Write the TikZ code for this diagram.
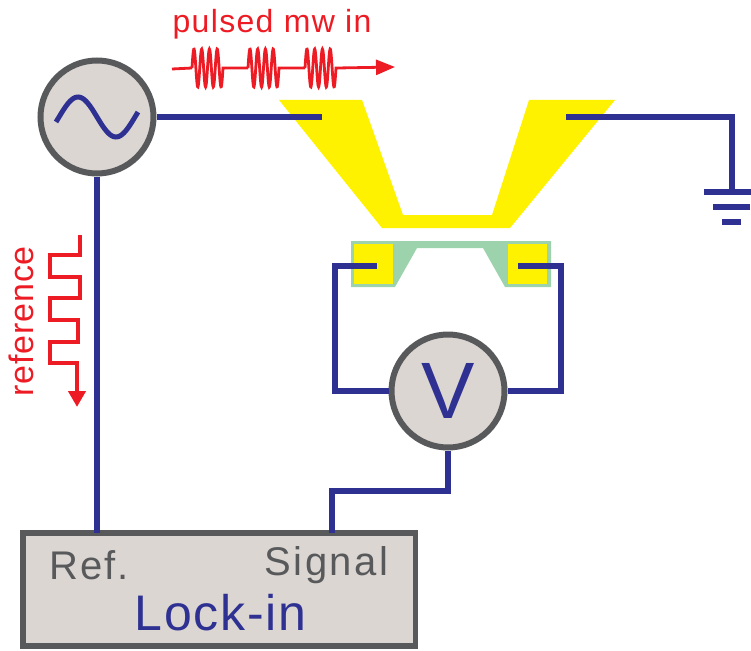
\documentclass[tikz,border=0pt]{standalone}
\usepackage{fontspec}
\setmainfont{Liberation Sans}
\usetikzlibrary{arrows.meta,positioning,calc}
\definecolor{wireblue}{RGB}{46,49,146}
\definecolor{sigred}{RGB}{237,28,36}
\definecolor{boxgray}{RGB}{220,214,211}
\definecolor{edgegray}{RGB}{88,89,91}
\definecolor{padyellow}{RGB}{255,242,0}
\definecolor{flakegreen}{RGB}{156,211,173}
\newcommand{\fsz}[2]{\fontsize{#1}{#1}\selectfont\addfontfeatures{LetterSpace=#2}}

\begin{document}
\begin{tikzpicture}[x=1pt,y=-1pt,
        wire/.style={draw=wireblue,line width=5.4pt,line join=miter},
        sigline/.style={draw=sigred,line width=2.8pt},
        instr/.style={circle,draw=edgegray,fill=boxgray,line width=6pt,inner sep=0pt,minimum size=113pt},
        redtext/.style={text=sigred,inner sep=0pt,anchor=base},
        graytext/.style={text=edgegray,inner sep=0pt,anchor=base}]
      \useasboundingbox (0,0) rectangle (751,650);
      % waveguide and sample
      \fill[padyellow] (279,100)--(362,100)--(403,215)--(492,215)--(529,100)--(615,100)--(510,228)--(382,228)--cycle;
      \fill[flakegreen] (351,241)--(551,241)--(551,287)--(505,287)--(483,248)--(417,248)--(395,287)--(351,287)--cycle;
      \fill[padyellow] (354,244) rectangle (393,284);
      \fill[padyellow] (508,244) rectangle (547,284);
      % wires
      \coordinate (gapin) at (322,117);
      \coordinate (gapout) at (566,117);
      \coordinate (padl) at (377,266);
      \coordinate (padr) at (518,266);
      \coordinate (gnd) at (732,192);
      \coordinate (sigin) at (332,533);
      \coordinate (refin) at (97,533);
      % instruments
      \node[instr] (src) at (97,117) {};
      \node[instr,text=wireblue,font=\fsz{80}{0}] (volt) at (448,391) {V};
      \node[draw=edgegray,fill=boxgray,line width=5.5pt,minimum width=392.5pt,minimum height=113pt,inner sep=0pt] (lock) at (219,589.5) {};
      \node[graytext,font=\fsz{40}{5.5}] (ref) at (89,579) {Ref.};
      \node[graytext,font=\fsz{40}{6}] (sig) at (326.5,575) {Signal};
      \node[text=wireblue,inner sep=0pt,anchor=base,font=\fsz{50}{3.4}] (lname) at (220.5,630) {Lock-in};
      \draw[wireblue,line width=5pt] plot[domain=-41:41,samples=60] ({97+\x},{117+20*sin(4.74*\x)});
      \draw[wire] (src)--(gapin);
      \draw[wire] (src)--(refin);
      \draw[wire] (gapout)-|(gnd);
      \draw[wire] (padl)--(335,266)--(335,391)--(volt);
      \draw[wire] (padr)--(561,266)--(561,391)--(volt);
      \draw[wire] (volt.south)--(448,491)--(332,491)--(sigin);
      % ground
      \draw[wireblue,line width=5.4pt] (704,192)--(751,192);
      \draw[wireblue,line width=5.4pt] (713,207)--(750,207);
      \draw[wireblue,line width=5.4pt] (722,222)--(741,222);
      % pulsed mw
      \node[redtext,font=\fsz{32}{4.2}] (mwlabel) at (272,33) {pulsed mw in};
      \draw[sigline,-{Triangle[length=19pt,width=15pt]}] (172,69)--(192,68)
        plot[domain=0:31,samples=90] ({192+\x},{68-19*sin(46.45*\x)})
        --(248,68) plot[domain=0:31,samples=90] ({248+\x},{68-19*sin(46.45*\x)})
        --(305,68) plot[domain=0:31,samples=90] ({305+\x},{68-19*sin(46.45*\x)})
        --(395,67);
      % reference
      \node[redtext,font=\fsz{34}{2.6},rotate=90] (reflabel) at (33,321.5) {reference};
      \draw[sigline,line width=4pt,-{Triangle[length=16pt,width=17pt]}] (80,235)--(80,255)--(50,255)--(50,277)--(80,277)--(80,298)--(50,298)--(50,320)--(78,320)--(78,342)--(50,342)--(50,363)--(77,363)--(77,407);
    \end{tikzpicture}
\end{document}
